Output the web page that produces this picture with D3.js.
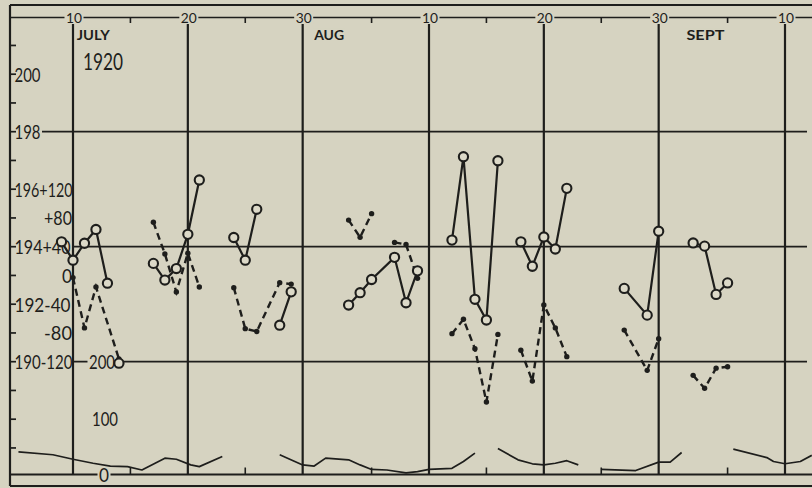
<!DOCTYPE html>
<html><head><meta charset="utf-8">
<script src="https://cdn.jsdelivr.net/npm/d3@7"></script>
<style>html,body{margin:0;padding:0;background:#d6d3c1;} svg{display:block;}</style>
</head><body><svg id="c" width="812" height="488"></svg>
<script>
// ---------------- data ----------------
// solid line with open circles (left scale 186..202); null = break in the line
const solidDates = ["1920-07-09","1920-07-10","1920-07-11","1920-07-12","1920-07-13",null,
  "1920-07-14",null,
  "1920-07-17","1920-07-18","1920-07-19","1920-07-20","1920-07-21",null,
  "1920-07-24","1920-07-25","1920-07-26",null,
  "1920-07-28","1920-07-29",null,
  "1920-08-03","1920-08-04","1920-08-05","1920-08-07","1920-08-08","1920-08-09",null,
  "1920-08-12","1920-08-13","1920-08-14","1920-08-15","1920-08-16",null,
  "1920-08-18","1920-08-19","1920-08-20","1920-08-21","1920-08-22",null,
  "1920-08-27","1920-08-29","1920-08-30",null,
  "1920-09-02","1920-09-03","1920-09-04","1920-09-05"];
const solidValues = [194.17,193.53,194.12,194.6,192.73,null,
  189.95,null,
  193.42,192.84,193.24,194.43,196.32,null,
  194.32,193.53,195.3,null,
  191.27,192.43,null,
  191.97,192.4,192.86,193.63,192.05,193.16,null,
  194.23,197.13,192.17,191.45,196.99,null,
  194.17,193.32,194.34,193.92,196.03,null,
  192.55,191.62,194.54,null,
  194.13,194.02,192.34,192.74];

// dashed line with dots (second scale, -120..+120)
const dashedDates = ["1920-07-10","1920-07-11","1920-07-12","1920-07-14",null,
  "1920-07-17","1920-07-18","1920-07-19","1920-07-20","1920-07-21",null,
  "1920-07-24","1920-07-25","1920-07-26","1920-07-28","1920-07-29",null,
  "1920-08-03","1920-08-04","1920-08-05",null,
  "1920-08-07","1920-08-08","1920-08-09",null,
  "1920-08-12","1920-08-13","1920-08-14","1920-08-15","1920-08-16",null,
  "1920-08-18","1920-08-19","1920-08-20","1920-08-21","1920-08-22",null,
  "1920-08-27","1920-08-29","1920-08-30",null,
  "1920-09-02","1920-09-03","1920-09-04","1920-09-05"];
const dashedValues = [-3,-73,-16,-116,null,
  74,30,-23,31,-16,null,
  -17,-74,-78,-10,-12,null,
  77,53,86,null,
  46,43,-4,null,
  -81,-61,-102,-176,-82,null,
  -104,-147,-41,-73,-113,null,
  -76,-132,-88,null,
  -139,-157,-129,-127];

// bottom thin line (third scale, 0..200)
const bottomDates = ["1920-07-05T06:00","1920-07-08T06:00","1920-07-10","1920-07-11T18:00","1920-07-13T06:00",
  "1920-07-14T18:00","1920-07-16","1920-07-18","1920-07-19","1920-07-20T06:00","1920-07-21","1920-07-23",null,
  "1920-07-28","1920-07-30","1920-07-31","1920-08-01","1920-08-03","1920-08-04","1920-08-05","1920-08-06T08:00",
  "1920-08-08","1920-08-09","1920-08-10","1920-08-12","1920-08-13","1920-08-14",null,
  "1920-08-16","1920-08-17T18:00","1920-08-19","1920-08-20","1920-08-21","1920-08-22","1920-08-23",null,
  "1920-08-25","1920-08-28","1920-08-30","1920-08-31","1920-09-01",null,
  "1920-09-05T12:00","1920-09-08T10:00","1920-09-09","1920-09-10","1920-09-11T08:00","1920-09-12T08:00"];
const bottomValues = [40,35,27,20,15,
  14,8,29,27,17,14,32,null,
  35,17,15,29,26,17,9,8,
  3,5,9,11,23,38,null,
  46,26,19,17,20,24.5,17,null,
  9,7,22,22,39,null,
  45,30,23,19,23,34];

// axes / labels
const majorDates = ["1920-07-10","1920-07-20","1920-07-30","1920-08-10","1920-08-20","1920-08-30","1920-09-10"];
const majorLabels = ["10","20","30","10","20","30","10"];
const minorDates = ["1920-07-15","1920-07-25","1920-08-05","1920-08-15","1920-08-25","1920-09-05"];
const monthNames = ["JULY","AUG","SEPT"];
const monthDates = ["1920-07-10T08:00","1920-07-31","1920-09-01T10:00"];
const yearLabel = "1920";
const leftTicks = [187,188,189,190,191,192,193,194,195,196,197,198,199,200,201];
const gridValues = [198,194,190];
// left scale labels (combined with the second scale where they share a line)
const leftLabelValues = [200,198,196,194,192,190];
const leftLabels = ["200","198","196+120","194+40","192-40","190-120"];
// second-scale labels standing alone
const dashLabelValues = [80,0,-80];
const dashLabels = ["+80","0","-80"];
// third-scale labels
const bottomLabelValues = [200,100,0];
const bottomLabels = ["200","100","0"];

// ---------------- drawing ----------------
const paper = "#d6d3c1", ink = "#1e1e1c";
const P = s => new Date(s + (s.length === 10 ? "T00:00:00Z" : ":00Z"));
const svg = d3.select("#c");
svg.append("rect").attr("width", 812).attr("height", 488).attr("fill", paper);

const x = d3.scaleUtc().domain([P("1920-07-10"), P("1920-09-10")]).range([73, 785]);
const yA = d3.scaleLinear().domain([186, 202]).range([476.7, 16.7]);
const yB = d3.scaleLinear().domain([0, 40]).range([yA(193), yA(194)]);
const yC = d3.scaleLinear().domain([0, 200]).range([474.5, yA(190)]);

const L = 10, R = 812, TOP = 17.5, BOT = 474.5;
const FONT = "Lato, 'DejaVu Sans', sans-serif";

function hline(g, y, x1, x2, w) {
  g.append("line").attr("x1", x1).attr("x2", x2).attr("y1", y).attr("y2", y)
    .attr("stroke", ink).attr("stroke-width", w);
}
function vline(g, xx, y1, y2, w) {
  g.append("line").attr("x1", xx).attr("x2", xx).attr("y1", y1).attr("y2", y2)
    .attr("stroke", ink).attr("stroke-width", w);
}

const gLines = svg.append("g");
const gBg1 = svg.append("g");
const gV = svg.append("g");
const gBg2 = svg.append("g");
const gTicks = svg.append("g");
const gText = svg.append("g");
const gData = svg.append("g");

// frame
hline(gLines, 5, L, R, 2.2);
hline(gLines, 486, L, R, 2.2);
vline(gLines, L, 5, 486, 2.2);
hline(gLines, TOP, L, R, 1.6);
hline(gLines, BOT, L, R, 2);
gridValues.forEach(v => hline(gLines, yA(v), 17, 807, 1.7));

// label helper: text with paper background
function label(bgLayer, txt, xx, base, anchor, size, len, weight) {
  let x0 = anchor === "end" ? xx - len : anchor === "middle" ? xx - len / 2 : xx;
  const cap = size * 0.73;
  bgLayer.append("rect").attr("x", x0 - 1.5).attr("y", base - cap - 1.5)
    .attr("width", len + 3).attr("height", cap + 3).attr("fill", paper);
  gText.append("text").attr("x", x0).attr("y", base).text(txt)
    .attr("font-family", FONT).attr("font-size", size).attr("font-weight", weight || 400)
    .attr("fill", ink).attr("textLength", len).attr("lengthAdjust", "spacingAndGlyphs");
}

// left labels
leftLabels.forEach((t, i) => {
  const len = t.length <= 3 ? 26 : t.length === 6 ? 56 : 58;
  label(gBg1, t, 14.5, yA(leftLabelValues[i]) + 7.5, "start", 20, len);
});
dashLabels.forEach((t, i) => {
  const len = t.length === 1 ? 10 : 28;
  label(gBg1, t, 72, yB(dashLabelValues[i]) + 7.5, "end", 20, len);
});
bottomLabels.forEach((t, i) => {
  const len = t.length === 1 ? 10 : 26;
  const xs = [89, 92, 99][i];
  label(gBg1, t, xs, yC(bottomLabelValues[i]) + 7.5, "start", 20, len);
});

// vertical gridlines
majorDates.forEach(d => vline(gV, x(P(d)), TOP, BOT, 2.2));

// top axis labels
majorLabels.forEach((t, i) => label(gBg2, t, x(P(majorDates[i])) + 1, 22.5, "middle", 13, 16));
// month labels and year
monthNames.forEach((t, i) => label(gBg2, t, x(P(monthDates[i])), 39.5, "start", 13.5, [33, 30, 38][i], 700));
label(gBg2, yearLabel, 83, 70, "start", 24, 40);

// ticks
leftTicks.forEach(v => hline(gTicks, yA(v), L, 16, 1.7));
minorDates.forEach(d => {
  vline(gTicks, x(P(d)), TOP, TOP + 5.5, 1.6);
  vline(gTicks, x(P(d)), BOT, BOT - 7, 1.6);
});

// ---- data series ----
const toPts = (ds, vs) => ds.map((d, i) => ({ d: d ? P(d) : null, v: d ? vs[i] : null }));
const solid = toPts(solidDates, solidValues);
const dashed = toPts(dashedDates, dashedValues);
const bottom = toPts(bottomDates, bottomValues);

// bottom thin line
gData.append("path").datum(bottom)
  .attr("d", d3.line().defined(p => p.v !== null).x(p => x(p.d)).y(p => yC(p.v)))
  .attr("fill", "none").attr("stroke", ink).attr("stroke-width", 1.7).attr("stroke-linejoin", "round");

// dashed series
gData.append("path").datum(dashed)
  .attr("d", d3.line().defined(p => p.v !== null).x(p => x(p.d)).y(p => yB(p.v)))
  .attr("fill", "none").attr("stroke", ink).attr("stroke-width", 2.4)
  .attr("stroke-dasharray", "7,4.5");
gData.selectAll("circle.dot").data(dashed.filter(p => p.v !== null)).join("circle")
  .attr("class", "dot").attr("cx", p => x(p.d)).attr("cy", p => yB(p.v)).attr("r", 2.7).attr("fill", ink);

// solid series
gData.append("path").datum(solid)
  .attr("d", d3.line().defined(p => p.v !== null).x(p => x(p.d)).y(p => yA(p.v)))
  .attr("fill", "none").attr("stroke", ink).attr("stroke-width", 2.2);
gData.selectAll("circle.ring").data(solid.filter(p => p.v !== null)).join("circle")
  .attr("class", "ring").attr("cx", p => x(p.d)).attr("cy", p => yA(p.v)).attr("r", 4.6)
  .attr("fill", "#dcd9c8").attr("stroke", ink).attr("stroke-width", 2.1);
</script>
</body></html>
